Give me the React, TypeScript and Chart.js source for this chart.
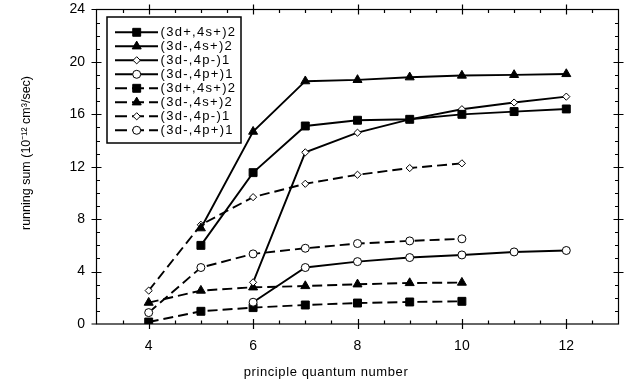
import React, { useEffect, useRef } from 'react';
import { Chart, registerables } from 'chart.js';

Chart.register(...registerables);

// principal quantum numbers
const nFrom5 = [5, 6, 7, 8, 9, 10, 11, 12];
const nFrom6 = [6, 7, 8, 9, 10, 11, 12];
const nFrom4 = [4, 5, 6, 7, 8, 9, 10];

// solid curves
const solidSq_3dp4sp2 = [6.0, 11.55, 15.11, 15.55, 15.62, 16.0, 16.21, 16.41];
const solidTri_3dm4sp2 = [7.31, 14.68, 18.53, 18.63, 18.83, 18.96, 19.01, 19.08];
const solidDia_3dm4pm1 = [3.18, 13.1, 14.6, 15.62, 16.39, 16.9, 17.35];
const solidCirc_3dm4pp1 = [1.66, 4.31, 4.76, 5.07, 5.27, 5.5, 5.61];

// dashed curves
const dashSq_3dp4sp2 = [0.15, 0.97, 1.25, 1.45, 1.6, 1.68, 1.73];
const dashTri_3dm4sp2 = [1.63, 2.55, 2.8, 2.9, 3.03, 3.13, 3.16];
const dashDia_3dm4pm1 = [2.55, 7.57, 9.68, 10.7, 11.39, 11.9, 12.26];
const dashCirc_3dm4pp1 = [0.87, 4.31, 5.35, 5.78, 6.14, 6.34, 6.5];

const seriesLabels = [
  '(3d+,4s+)2',
  '(3d-,4s+)2',
  '(3d-,4p-)1',
  '(3d-,4p+)1',
  '(3d+,4s+)2',
  '(3d-,4s+)2',
  '(3d-,4p-)1',
  '(3d-,4p+)1',
];

const xTickValues = [4, 6, 8, 10, 12];
const yTickValues = [0, 4, 8, 12, 16, 20, 24];
const xMin = 3;
const xMax = 13;
const yMin = 0;
const yMax = 24;

const xTitle = 'principle quantum number';
const yTitle = 'running sum (10\u207B\u00B9\u00B2 cm\u00B3/sec)';

const FONT = '"Liberation Sans", Arial, Helvetica, sans-serif';
const DASH = [10, 5];

const toPts = (xs: number[], ys: number[]) => xs.map((x, i) => ({ x, y: ys[i] }));

type Marker = { style: string; r: number; filled: boolean };
const markers: Marker[] = [
  { style: 'rect', r: 5.6, filled: true },
  { style: 'triangle', r: 5.2, filled: true },
  { style: 'rectRot', r: 3.6, filled: false },
  { style: 'circle', r: 4, filled: false },
];

function makeDataset(label: string, pts: { x: number; y: number }[], m: Marker, dashed: boolean) {
  return {
    label,
    data: pts,
    borderColor: '#000',
    borderWidth: 1.9,
    borderDash: dashed ? DASH : [],
    pointStyle: m.style,
    pointRadius: m.r,
    pointBorderWidth: 1,
    pointBorderColor: '#000',
    pointBackgroundColor: m.filled ? '#000' : '#fff',
    fill: false,
    tension: 0,
    showLine: true,
  };
}

function drawMarker(ctx: CanvasRenderingContext2D, m: Marker, x: number, y: number) {
  const r = m.r;
  ctx.beginPath();
  if (m.style === 'rect') {
    const s = Math.SQRT1_2 * r;
    ctx.rect(x - s, y - s, 2 * s, 2 * s);
  } else if (m.style === 'triangle') {
    ctx.moveTo(x, y - r);
    ctx.lineTo(x + 0.866 * r, y + 0.5 * r);
    ctx.lineTo(x - 0.866 * r, y + 0.5 * r);
    ctx.closePath();
  } else if (m.style === 'rectRot') {
    ctx.moveTo(x, y - r);
    ctx.lineTo(x + r, y);
    ctx.lineTo(x, y + r);
    ctx.lineTo(x - r, y);
    ctx.closePath();
  } else {
    ctx.arc(x, y, r, 0, Math.PI * 2);
  }
  ctx.fillStyle = m.filled ? '#000' : '#fff';
  ctx.fill();
  ctx.lineWidth = 1;
  ctx.setLineDash([]);
  ctx.strokeStyle = '#000';
  ctx.stroke();
}

const framePlugin = {
  id: 'frameTicks',
  afterDatasetsDraw(chart: any) {
    const { ctx, chartArea: a, scales } = chart;
    const x = scales.x;
    const y = scales.y;
    ctx.save();
    ctx.strokeStyle = '#000';
    ctx.lineWidth = 1.2;
    ctx.setLineDash([]);
    ctx.strokeRect(a.left, a.top, a.right - a.left, a.bottom - a.top);
    ctx.beginPath();
    for (let v = xMin + 0.5; v < xMax - 0.01; v += 0.5) {
      const px = Math.round(x.getPixelForValue(v)) + 0.5;
      const major = xTickValues.includes(v);
      const out = major ? 5 : 0;
      const inn = major ? 5 : 3.5;
      ctx.moveTo(px, a.bottom + out);
      ctx.lineTo(px, a.bottom - inn);
      ctx.moveTo(px, a.top - out);
      ctx.lineTo(px, a.top + inn);
    }
    for (let v = yMin + 1; v < yMax; v += 1) {
      const py = Math.round(y.getPixelForValue(v)) + 0.5;
      const major = yTickValues.includes(v);
      const out = major ? 5 : 0;
      const inn = major ? 5 : 3.5;
      ctx.moveTo(a.left - out, py);
      ctx.lineTo(a.left + inn, py);
      ctx.moveTo(a.right + out, py);
      ctx.lineTo(a.right - inn, py);
    }
    [yMin, yMax].forEach((v) => {
      const py = y.getPixelForValue(v);
      ctx.moveTo(a.left - 5, py);
      ctx.lineTo(a.left, py);
    });
    ctx.stroke();

    // axis titles
    ctx.fillStyle = '#000';
    ctx.font = `13px ${FONT}`;
    (ctx as any).letterSpacing = '0.6px';
    ctx.textAlign = 'center';
    ctx.textBaseline = 'middle';
    ctx.fillText(xTitle, 326, 372);
    ctx.save();
    ctx.translate(27, 153);
    ctx.rotate(-Math.PI / 2);
    (ctx as any).letterSpacing = '0px';
    ctx.font = `12.5px ${FONT}`;
    ctx.fillText(yTitle, 0, 0);
    ctx.restore();
    ctx.restore();
  },
};

const legendPlugin = {
  id: 'boxLegend',
  afterDraw(chart: any) {
    const { ctx } = chart;
    const bx = 107, by = 17, bw = 134, bh = 126;
    ctx.save();
    ctx.fillStyle = '#fff';
    ctx.fillRect(bx, by, bw, bh);
    ctx.strokeStyle = '#000';
    ctx.lineWidth = 1.5;
    ctx.setLineDash([]);
    ctx.strokeRect(bx, by, bw, bh);
    chart.data.datasets.forEach((ds: any, i: number) => {
      const yy = 32.3 + i * 14.0;
      const m = markers[i % 4];
      ctx.beginPath();
      ctx.setLineDash(ds.borderDash && ds.borderDash.length ? [12, 5] : []);
      ctx.lineWidth = 1.9;
      ctx.strokeStyle = '#000';
      ctx.moveTo(115, yy);
      ctx.lineTo(158, yy);
      ctx.stroke();
      drawMarker(ctx, m, 136.7, yy);
      ctx.fillStyle = '#000';
      ctx.font = `13px ${FONT}`;
      (ctx as any).letterSpacing = '1.3px';
      ctx.textAlign = 'left';
      ctx.textBaseline = 'middle';
      ctx.fillText(ds.label, 160.5, yy + 0.5);
    });
    ctx.restore();
  },
};

export default function App() {
  const ref = useRef<HTMLCanvasElement | null>(null);
  useEffect(() => {
    if (!ref.current) return;
    const datasets = [
      makeDataset(seriesLabels[0], toPts(nFrom5, solidSq_3dp4sp2), markers[0], false),
      makeDataset(seriesLabels[1], toPts(nFrom5, solidTri_3dm4sp2), markers[1], false),
      makeDataset(seriesLabels[2], toPts(nFrom6, solidDia_3dm4pm1), markers[2], false),
      makeDataset(seriesLabels[3], toPts(nFrom6, solidCirc_3dm4pp1), markers[3], false),
      makeDataset(seriesLabels[4], toPts(nFrom4, dashSq_3dp4sp2), markers[0], true),
      makeDataset(seriesLabels[5], toPts(nFrom4, dashTri_3dm4sp2), markers[1], true),
      makeDataset(seriesLabels[6], toPts(nFrom4, dashDia_3dm4pm1), markers[2], true),
      makeDataset(seriesLabels[7], toPts(nFrom4, dashCirc_3dm4pp1), markers[3], true),
    ];
    const chart = new Chart(ref.current, {
      type: 'line',
      data: { datasets: datasets as any },
      options: {
        responsive: false,
        animation: false,
        devicePixelRatio: 1,
        layout: { padding: { left: 0, top: 9.5, right: 18.5, bottom: 0 } },
        plugins: { legend: { display: false }, tooltip: { enabled: false } },
        scales: {
          x: {
            type: 'linear',
            min: xMin,
            max: xMax,
            grid: { display: false, drawTicks: false },
            border: { display: false },
            ticks: {
              color: '#000',
              font: { family: FONT, size: 14 },
              padding: 14,
              maxRotation: 0,
              autoSkip: false,
            },
            afterBuildTicks: (s: any) => {
              s.ticks = xTickValues.map((v) => ({ value: v }));
            },
            afterFit: (s: any) => {
              s.height = 62;
              s.paddingLeft = 0;
              s.paddingRight = 0;
              s.paddingTop = 0;
              s.paddingBottom = 0;
            },
          },
          y: {
            type: 'linear',
            min: yMin,
            max: yMax,
            grid: { display: false, drawTicks: false },
            border: { display: false },
            ticks: {
              color: '#000',
              font: { family: FONT, size: 14 },
              padding: 11.5,
              autoSkip: false,
            },
            afterBuildTicks: (s: any) => {
              s.ticks = yTickValues.map((v) => ({ value: v }));
            },
            afterFit: (s: any) => {
              s.width = 96.5;
              s.paddingLeft = 0;
              s.paddingRight = 0;
              s.paddingTop = 0;
              s.paddingBottom = 0;
            },
          },
        },
      },
      plugins: [framePlugin, legendPlugin],
    });
    return () => chart.destroy();
  }, []);
  return (
    <div style={{ position: 'absolute', left: 0, top: 0, width: 637, height: 386, background: '#fff' }}>
      <canvas ref={ref} width={637} height={386} style={{ display: 'block' }} />
    </div>
  );
}
